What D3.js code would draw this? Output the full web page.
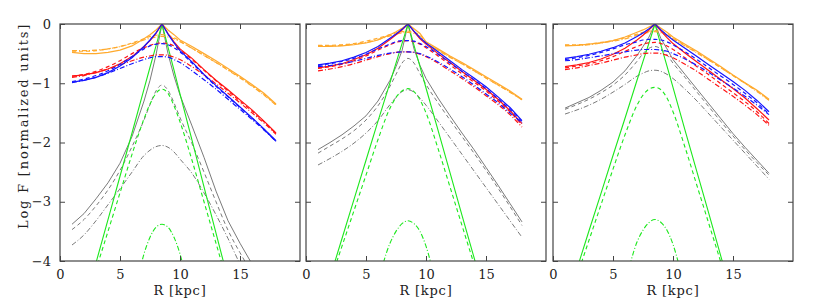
<!DOCTYPE html>
<html>
<head>
<meta charset="UTF-8">
<title>Log F profiles</title>
<script src="https://cdnjs.cloudflare.com/ajax/libs/d3/7.8.5/d3.min.js"></script>
<style>
  body { margin: 0; background: #fff; }
  svg text { font-family: "DejaVu Serif", serif; fill: #222; }
</style>
</head>
<body>
<svg id="chart" width="830" height="308"></svg>
<script>
// galactocentric radius grid (kpc)
var R = [1, 2, 3, 4, 5, 6, 7, 7.5, 8, 8.5, 9, 9.5, 10, 11, 12, 13, 14, 15, 16, 17, 18];

// each colour: [solid, dashed, dash-dot] (log F)
// ---- panel 1
var P1_ORANGE = [
  [-0.48,-0.50,-0.50,-0.48,-0.44,-0.37,-0.25,-0.18,-0.10,0,-0.10,-0.18,-0.27,-0.38,-0.50,-0.62,-0.75,-0.88,-1.02,-1.17,-1.35],
  [-0.46,-0.46,-0.45,-0.42,-0.38,-0.32,-0.25,-0.21,-0.19,-0.18,-0.19,-0.23,-0.29,-0.41,-0.53,-0.65,-0.77,-0.90,-1.04,-1.19,-1.36],
  [-0.45,-0.45,-0.44,-0.42,-0.38,-0.33,-0.27,-0.24,-0.22,-0.21,-0.22,-0.25,-0.30,-0.41,-0.53,-0.65,-0.78,-0.91,-1.05,-1.20,-1.37]
];
var P1_RED = [
  [-0.88,-0.86,-0.82,-0.76,-0.67,-0.55,-0.38,-0.28,-0.16,0,-0.16,-0.30,-0.42,-0.58,-0.77,-0.95,-1.11,-1.28,-1.45,-1.64,-1.84],
  [-0.88,-0.85,-0.80,-0.72,-0.62,-0.50,-0.40,-0.36,-0.33,-0.32,-0.33,-0.37,-0.44,-0.60,-0.78,-0.96,-1.13,-1.30,-1.47,-1.65,-1.85],
  [-0.90,-0.87,-0.82,-0.76,-0.69,-0.62,-0.56,-0.54,-0.52,-0.52,-0.53,-0.56,-0.60,-0.72,-0.86,-1.01,-1.17,-1.33,-1.50,-1.67,-1.86]
];
var P1_BLUE = [
  [-0.98,-0.95,-0.90,-0.82,-0.71,-0.57,-0.38,-0.27,-0.15,0,-0.17,-0.32,-0.45,-0.64,-0.85,-1.04,-1.22,-1.40,-1.58,-1.77,-1.97],
  [-0.97,-0.93,-0.87,-0.79,-0.68,-0.55,-0.42,-0.37,-0.34,-0.33,-0.35,-0.40,-0.47,-0.66,-0.86,-1.05,-1.23,-1.41,-1.59,-1.78,-1.98],
  [-0.99,-0.95,-0.90,-0.83,-0.75,-0.67,-0.60,-0.57,-0.55,-0.55,-0.56,-0.60,-0.65,-0.79,-0.94,-1.10,-1.27,-1.44,-1.61,-1.79,-1.98]
];
var P1_GRAY = [
  [-3.38,-3.20,-2.95,-2.68,-2.35,-1.90,-1.30,-0.95,-0.52,0,-0.50,-0.88,-1.20,-1.72,-2.25,-2.82,-3.32,-3.70,-4.05,-4.35,-4.65],
  [-3.47,-3.30,-3.07,-2.80,-2.47,-2.07,-1.62,-1.36,-1.13,-1.03,-1.12,-1.33,-1.58,-2.02,-2.50,-3.00,-3.48,-3.86,-4.20,-4.50,-4.80],
  [-3.73,-3.56,-3.32,-3.05,-2.78,-2.50,-2.22,-2.13,-2.07,-2.05,-2.08,-2.16,-2.28,-2.52,-2.85,-3.22,-3.62,-4.05,-4.40,-4.70,-5.00]
];
var P1_GREEN = [
  [-5.50,-4.77,-4.03,-3.30,-2.57,-1.84,-1.10,-0.73,-0.37,0,-0.39,-0.78,-1.18,-1.96,-2.75,-3.53,-4.31,-5.10,null,null,null],
  [null,-4.85,-4.15,-3.50,-2.85,-2.20,-1.60,-1.35,-1.17,-1.10,-1.17,-1.38,-1.65,-2.30,-3.00,-3.70,-4.40,null,null,null,null],
  [null,null,null,null,null,-4.80,-3.88,-3.60,-3.43,-3.38,-3.43,-3.60,-3.88,-4.80,null,null,null,null,null,null,null]
];
// ---- panel 2
var P2_ORANGE = [
  [-0.38,-0.38,-0.37,-0.35,-0.32,-0.27,-0.18,-0.13,-0.07,0,-0.08,-0.16,-0.30,-0.42,-0.54,-0.65,-0.77,-0.89,-1.01,-1.13,-1.27],
  [-0.36,-0.36,-0.35,-0.33,-0.29,-0.24,-0.18,-0.15,-0.13,-0.12,-0.14,-0.19,-0.31,-0.44,-0.56,-0.67,-0.79,-0.91,-1.03,-1.15,-1.28],
  [-0.37,-0.37,-0.36,-0.34,-0.31,-0.26,-0.20,-0.17,-0.15,-0.14,-0.16,-0.21,-0.32,-0.44,-0.56,-0.67,-0.79,-0.91,-1.03,-1.15,-1.28]
];
var P2_RED = [
  [-0.74,-0.71,-0.67,-0.60,-0.52,-0.41,-0.26,-0.18,-0.10,0,-0.13,-0.25,-0.34,-0.50,-0.65,-0.80,-0.95,-1.10,-1.27,-1.46,-1.68],
  [-0.75,-0.72,-0.68,-0.62,-0.54,-0.44,-0.35,-0.31,-0.29,-0.28,-0.30,-0.34,-0.40,-0.54,-0.69,-0.84,-0.98,-1.13,-1.30,-1.48,-1.70],
  [-0.79,-0.76,-0.72,-0.67,-0.61,-0.55,-0.50,-0.48,-0.47,-0.47,-0.48,-0.51,-0.55,-0.66,-0.79,-0.92,-1.06,-1.21,-1.36,-1.53,-1.74]
];
var P2_BLUE = [
  [-0.69,-0.66,-0.62,-0.56,-0.48,-0.38,-0.24,-0.17,-0.09,0,-0.12,-0.23,-0.32,-0.47,-0.62,-0.77,-0.91,-1.06,-1.23,-1.41,-1.63],
  [-0.70,-0.67,-0.63,-0.58,-0.51,-0.42,-0.34,-0.30,-0.28,-0.28,-0.29,-0.33,-0.38,-0.51,-0.66,-0.80,-0.94,-1.09,-1.26,-1.44,-1.65],
  [-0.72,-0.70,-0.67,-0.63,-0.58,-0.53,-0.49,-0.48,-0.47,-0.47,-0.48,-0.50,-0.54,-0.64,-0.76,-0.89,-1.03,-1.18,-1.33,-1.50,-1.67]
];
var P2_GRAY = [
  [-2.12,-2.00,-1.87,-1.72,-1.55,-1.30,-0.95,-0.72,-0.45,0,-0.42,-0.70,-0.92,-1.25,-1.55,-1.84,-2.12,-2.42,-2.72,-3.03,-3.34],
  [-2.18,-2.06,-1.94,-1.80,-1.62,-1.38,-1.05,-0.85,-0.66,-0.58,-0.66,-0.84,-1.02,-1.33,-1.62,-1.90,-2.18,-2.47,-2.77,-3.08,-3.40],
  [-2.38,-2.27,-2.15,-2.01,-1.84,-1.63,-1.36,-1.24,-1.14,-1.11,-1.15,-1.25,-1.37,-1.64,-1.92,-2.20,-2.48,-2.76,-3.04,-3.32,-3.60]
];
var P2_GREEN = [
  [-4.93,-4.28,-3.62,-2.96,-2.30,-1.64,-0.99,-0.66,-0.33,0,-0.36,-0.72,-1.08,-1.79,-2.51,-3.23,-3.94,-4.66,null,null,null],
  [null,-4.35,-3.75,-3.15,-2.55,-1.95,-1.42,-1.24,-1.13,-1.09,-1.14,-1.28,-1.50,-2.10,-2.75,-3.40,-4.05,-4.70,null,null,null],
  [null,null,null,null,null,-4.35,-3.70,-3.50,-3.37,-3.32,-3.37,-3.50,-3.75,-4.55,null,null,null,null,null,null,null]
];
// ---- panel 3
var P3_ORANGE = [
  [-0.37,-0.36,-0.34,-0.32,-0.28,-0.22,-0.14,-0.10,-0.05,0,-0.07,-0.14,-0.22,-0.34,-0.46,-0.59,-0.72,-0.86,-0.99,-1.12,-1.27],
  [-0.35,-0.35,-0.34,-0.31,-0.28,-0.23,-0.17,-0.14,-0.12,-0.11,-0.13,-0.17,-0.24,-0.36,-0.48,-0.61,-0.74,-0.87,-1.00,-1.13,-1.28],
  [-0.36,-0.36,-0.35,-0.32,-0.29,-0.25,-0.19,-0.16,-0.14,-0.13,-0.15,-0.19,-0.25,-0.37,-0.49,-0.61,-0.74,-0.87,-1.00,-1.14,-1.29]
];
var P3_RED = [
  [-0.72,-0.69,-0.65,-0.59,-0.51,-0.41,-0.27,-0.19,-0.10,0,-0.12,-0.23,-0.33,-0.49,-0.64,-0.79,-0.94,-1.09,-1.25,-1.43,-1.62],
  [-0.74,-0.71,-0.67,-0.62,-0.55,-0.46,-0.38,-0.34,-0.32,-0.31,-0.33,-0.37,-0.43,-0.57,-0.72,-0.86,-1.01,-1.16,-1.31,-1.48,-1.68],
  [-0.77,-0.74,-0.70,-0.66,-0.61,-0.56,-0.52,-0.50,-0.49,-0.49,-0.50,-0.53,-0.57,-0.68,-0.80,-0.94,-1.08,-1.22,-1.37,-1.53,-1.71]
];
var P3_BLUE = [
  [-0.58,-0.55,-0.51,-0.46,-0.40,-0.32,-0.21,-0.15,-0.08,0,-0.10,-0.19,-0.27,-0.41,-0.55,-0.69,-0.83,-0.97,-1.12,-1.29,-1.48],
  [-0.60,-0.57,-0.53,-0.48,-0.42,-0.35,-0.30,-0.27,-0.26,-0.26,-0.27,-0.30,-0.35,-0.47,-0.60,-0.74,-0.88,-1.02,-1.17,-1.33,-1.52],
  [-0.62,-0.60,-0.57,-0.54,-0.50,-0.47,-0.44,-0.43,-0.43,-0.43,-0.44,-0.46,-0.50,-0.59,-0.70,-0.82,-0.95,-1.08,-1.22,-1.37,-1.53]
];
var P3_GRAY = [
  [-1.42,-1.33,-1.24,-1.12,-0.98,-0.79,-0.53,-0.38,-0.22,0,-0.25,-0.42,-0.60,-0.85,-1.10,-1.35,-1.60,-1.85,-2.08,-2.30,-2.52],
  [-1.44,-1.36,-1.27,-1.16,-1.03,-0.86,-0.63,-0.50,-0.41,-0.38,-0.42,-0.52,-0.66,-0.90,-1.15,-1.40,-1.65,-1.89,-2.12,-2.34,-2.55],
  [-1.52,-1.45,-1.37,-1.27,-1.15,-1.02,-0.88,-0.83,-0.79,-0.78,-0.80,-0.85,-0.92,-1.10,-1.30,-1.52,-1.74,-1.96,-2.18,-2.40,-2.62]
];
var P3_GREEN = [
  [-4.76,-4.13,-3.49,-2.86,-2.22,-1.59,-0.95,-0.63,-0.32,0,-0.36,-0.71,-1.07,-1.79,-2.50,-3.21,-3.93,-4.64,null,null,null],
  [null,-4.25,-3.65,-3.05,-2.45,-1.87,-1.37,-1.20,-1.10,-1.07,-1.11,-1.25,-1.48,-2.08,-2.73,-3.38,-4.03,-4.70,null,null,null],
  [null,null,null,null,null,-4.40,-3.68,-3.48,-3.35,-3.30,-3.35,-3.48,-3.72,-4.50,null,null,null,null,null,null,null]
];

var xTicks = [0, 5, 10, 15];
var yTicks = [0, -1, -2, -3, -4];
var yTickLabels = ["0", "\u22121", "\u22122", "\u22123", "\u22124"];

var panels = [
  [P1_GRAY, P1_GREEN, P1_ORANGE, P1_RED, P1_BLUE],
  [P2_GRAY, P2_GREEN, P2_ORANGE, P2_RED, P2_BLUE],
  [P3_GRAY, P3_GREEN, P3_ORANGE, P3_RED, P3_BLUE]
];
var colors = ["#7a7a7a", "#1ce81c", "#ffaa2e", "#ff1414", "#1414ff"];
var widths = [1, 1.1, 1.2, 1.2, 1.2];
var dashes = [null, "4,3", "5,2,1,2"];

var svg = d3.select("#chart");
var lefts = [60, 306, 553];
var top0 = 24, W = 240, H = 237;

var x = d3.scaleLinear().domain([0, 20]).range([0, W]);
var y = d3.scaleLinear().domain([-4, 0]).range([H, 0]);

var defs = svg.append("defs");
defs.append("clipPath").attr("id", "clip")
  .append("rect").attr("width", W).attr("height", H);

panels.forEach(function(sets, p) {
  var g = svg.append("g").attr("transform", "translate(" + lefts[p] + "," + top0 + ")");

  var plot = g.append("g").attr("clip-path", "url(#clip)");
  sets.forEach(function(set, c) {
    set.forEach(function(vals, s) {
      var pts = R.map(function(r, i) { return [r, vals[i]]; });
      var line = d3.line()
        .defined(function(d) { return d[1] !== null; })
        .x(function(d) { return x(d[0]); })
        .y(function(d) { return y(d[1]); })
        .curve(s === 0 ? d3.curveLinear : d3.curveMonotoneX);
      plot.append("path")
        .attr("d", line(pts))
        .attr("fill", "none")
        .attr("stroke", colors[c])
        .attr("stroke-width", widths[c])
        .attr("stroke-dasharray", dashes[s]);
    });
  });

  // inward ticks on all four sides
  var axB = d3.axisBottom(x).tickValues(xTicks).tickSize(-5).tickPadding(9).tickFormat(d3.format("d"));
  var axT = d3.axisTop(x).tickValues(xTicks).tickSize(-5).tickFormat("");
  var axL = d3.axisLeft(y).tickValues(yTicks).tickSize(-5).tickPadding(9)
    .tickFormat(function(d, i) { return p === 0 ? yTickLabels[i] : ""; });
  var axR = d3.axisRight(y).tickValues(yTicks).tickSize(-5).tickFormat("");

  [[axB, "translate(0," + H + ")"], [axT, null], [axL, null], [axR, "translate(" + W + ",0)"]]
    .forEach(function(a) {
      var ag = g.append("g").call(a[0]);
      if (a[1]) ag.attr("transform", a[1]);
      ag.select(".domain").remove();
      ag.selectAll("line").attr("stroke", "#444");
      ag.selectAll("text").style("font-family", "DejaVu Serif").style("font-size", "13px").attr("fill", "#222");
    });

  g.append("rect").attr("width", W).attr("height", H)
    .attr("fill", "none").attr("stroke", "#444").attr("stroke-width", 1.2);

  g.append("text")
    .attr("x", x(10)).attr("y", H + 34)
    .attr("text-anchor", "middle")
    .style("font-size", "13px")
    .style("letter-spacing", "0.8px")
    .text("R [kpc]");
});

svg.append("text")
  .attr("transform", "translate(28,126) rotate(-90)")
  .attr("text-anchor", "middle")
  .style("font-size", "13px")
  .style("letter-spacing", "1.8px")
  .text("Log F [normalized units]");
</script>
</body>
</html>
